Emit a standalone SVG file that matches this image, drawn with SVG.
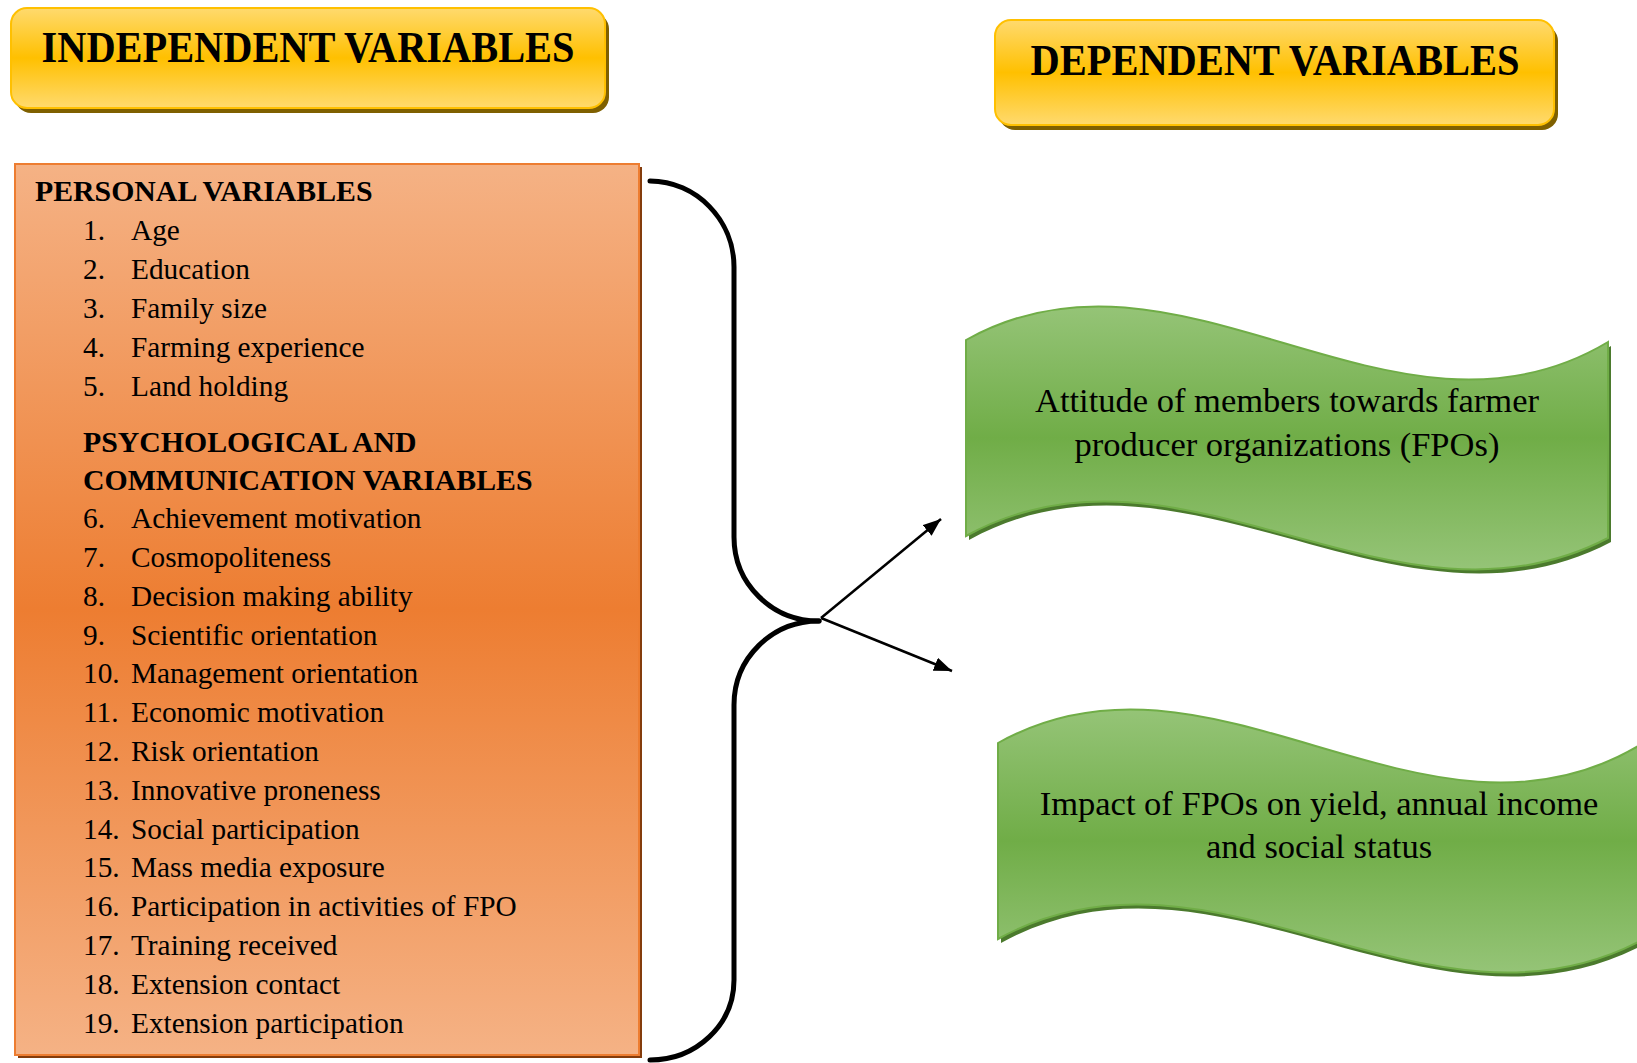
<svg xmlns="http://www.w3.org/2000/svg" width="1637" height="1063" viewBox="0 0 1637 1063">
<defs>
<linearGradient id="gold" x1="0" y1="0" x2="0" y2="1">
<stop offset="0" stop-color="#FFDA6E"/>
<stop offset="0.5" stop-color="#FFC000"/>
<stop offset="1" stop-color="#FFDA6E"/>
</linearGradient>
<linearGradient id="orange" x1="0" y1="0" x2="0" y2="1">
<stop offset="0" stop-color="#F5B285"/>
<stop offset="0.5" stop-color="#ED7D31"/>
<stop offset="1" stop-color="#F5B285"/>
</linearGradient>
<linearGradient id="green" x1="0" y1="0" x2="0" y2="1">
<stop offset="0" stop-color="#95C477"/>
<stop offset="0.5" stop-color="#70AD47"/>
<stop offset="1" stop-color="#95C477"/>
</linearGradient>
<marker id="arr" markerWidth="20" markerHeight="16" refX="18" refY="7" orient="auto" markerUnits="userSpaceOnUse">
<path d="M0,0 L18,7 L0,14 Z" fill="#000"/>
</marker>
<path id="wave" d="M 966,340 C 1180,220 1394,470 1608,342 L 1608,538 C 1394,650 1180,418 966,536 Z"/>
</defs>
<style>
.banner{fill:url(#gold);stroke:#FFC000;stroke-width:2}
.bshadow{fill:#7F6000}
.title{font-family:"Liberation Serif","Times New Roman",serif;font-weight:bold;font-size:45px;fill:#000}
.head{font-family:"Liberation Serif","Times New Roman",serif;font-weight:bold;font-size:29.8px;fill:#000}
.item{font-family:"Liberation Serif","Times New Roman",serif;font-size:29.3px;fill:#000}
.wtext{font-family:"Liberation Serif","Times New Roman",serif;font-size:34.5px;fill:#000;text-anchor:middle}
.wfill{fill:url(#green);stroke:#70AD47;stroke-width:2}
.wshadow{fill:#4B7A2D}
.conn{stroke:#000;fill:none}
</style>
<rect width="1637" height="1063" fill="#fff"/>

<g id="independent-banner">
<rect class="bshadow" x="15" y="13" width="594" height="100" rx="16"/>
<rect class="banner" x="11" y="8" width="594" height="100" rx="16"/>
<text class="title" x="308" y="62" text-anchor="middle" textLength="533" lengthAdjust="spacingAndGlyphs">INDEPENDENT VARIABLES</text>
</g>

<g id="dependent-banner">
<rect class="bshadow" x="999" y="25" width="559" height="105" rx="16"/>
<rect class="banner" x="995" y="20" width="559" height="105" rx="16"/>
<text class="title" x="1275" y="75" text-anchor="middle" textLength="489" lengthAdjust="spacingAndGlyphs">DEPENDENT VARIABLES</text>
</g>

<g id="independent-list">
<rect x="18" y="167" width="624" height="891" fill="#843C0C"/>
<rect x="15" y="164" width="624" height="891" fill="url(#orange)" stroke="#ED7D31" stroke-width="2"/>
<text class="head" x="35" y="201">PERSONAL VARIABLES</text>
<g class="item">
<text x="83" y="240">1.</text><text x="131" y="240">Age</text>
<text x="83" y="279">2.</text><text x="131" y="279">Education</text>
<text x="83" y="318">3.</text><text x="131" y="318">Family size</text>
<text x="83" y="357">4.</text><text x="131" y="357">Farming experience</text>
<text x="83" y="396">5.</text><text x="131" y="396">Land holding</text>
</g>
<text class="head" x="83" y="452">PSYCHOLOGICAL AND</text>
<text class="head" x="83" y="490">COMMUNICATION VARIABLES</text>
<g class="item">
<text x="83" y="528">6.</text><text x="131" y="528">Achievement motivation</text>
<text x="83" y="567">7.</text><text x="131" y="567">Cosmopoliteness</text>
<text x="83" y="606">8.</text><text x="131" y="606">Decision making ability</text>
<text x="83" y="645">9.</text><text x="131" y="645">Scientific orientation</text>
<text x="83" y="683">10.</text><text x="131" y="683">Management orientation</text>
<text x="83" y="722">11.</text><text x="131" y="722">Economic motivation</text>
<text x="83" y="761">12.</text><text x="131" y="761">Risk orientation</text>
<text x="83" y="800">13.</text><text x="131" y="800">Innovative proneness</text>
<text x="83" y="839">14.</text><text x="131" y="839">Social participation</text>
<text x="83" y="877">15.</text><text x="131" y="877">Mass media exposure</text>
<text x="83" y="916">16.</text><text x="131" y="916">Participation in activities of FPO</text>
<text x="83" y="955">17.</text><text x="131" y="955">Training received</text>
<text x="83" y="994">18.</text><text x="131" y="994">Extension contact</text>
<text x="83" y="1033">19.</text><text x="131" y="1033">Extension participation</text>
</g>
</g>

<g id="attitude">
<use href="#wave" class="wshadow" transform="translate(3,4)"/>
<use href="#wave" class="wfill"/>
<text class="wtext" x="1287" y="412">Attitude of members towards farmer</text>
<text class="wtext" x="1287" y="456">producer organizations (FPOs)</text>
</g>

<g id="impact">
<g transform="translate(32,403)">
<use href="#wave" class="wshadow" transform="translate(3,4)"/>
<use href="#wave" class="wfill"/>
</g>
<text class="wtext" x="1319" y="815">Impact of FPOs on yield, annual income</text>
<text class="wtext" x="1319" y="858">and social status</text>
</g>

<g id="connectors">
<path class="conn" stroke-width="5" stroke-linecap="round" d="M 650,181 C 696,181 734,220 734,267 L 734,537 C 734,584 772,621 819,621"/>
<path class="conn" stroke-width="5" stroke-linecap="round" d="M 819,621 C 772,621 734,658 734,705 L 734,980 C 734,1025 696,1060 650,1060"/>
<line class="conn" stroke-width="2.5" x1="821" y1="618" x2="941" y2="519" marker-end="url(#arr)"/>
<line class="conn" stroke-width="2.5" x1="821" y1="618" x2="952" y2="671" marker-end="url(#arr)"/>
</g>
</svg>
